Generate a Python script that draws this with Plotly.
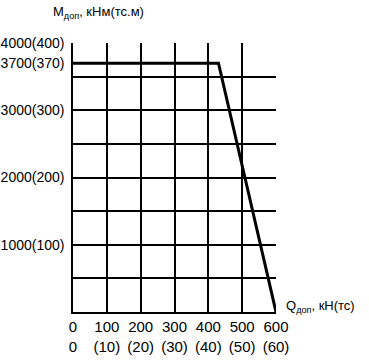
import plotly.graph_objects as go

# data
q_values = [0, 430, 600]
m_values = [3700, 3700, 0]
x_tickvals = [0, 100, 200, 300, 400, 500, 600]
x_ticktext = ["0<br>0", "100<br>(10)", "200<br>(20)", "300<br>(30)", "400<br>(40)", "500<br>(50)", "600<br>(60)"]
y_tickvals = [1000, 2000, 3000, 3700, 4000]
y_ticktext = ["1000(100)", "2000(200)", "3000(300)", "3700(370)", "4000(400)"]

FONT = "Liberation Sans Narrow, Arial Narrow, Liberation Sans, Arial, sans-serif"

fig = go.Figure()
fig.add_trace(go.Scatter(x=q_values, y=m_values, mode="lines",
                         line=dict(color="black", width=3), showlegend=False))

fig.update_layout(
    width=369, height=362,
    margin=dict(l=73, r=93, t=43, b=50, autoexpand=False),
    paper_bgcolor="white", plot_bgcolor="white",
    font=dict(family=FONT, size=14, color="black"),
    xaxis=dict(range=[0, 600], tickvals=x_tickvals, ticktext=x_ticktext,
               tickangle=0, automargin=False, ticklabelstandoff=0,
               showgrid=True, gridcolor="black", gridwidth=1.5,
               showline=True, linecolor="black", linewidth=2,
               ticks="", zeroline=False, tickfont=dict(size=15)),
    yaxis=dict(range=[0, 4000], tickvals=y_tickvals, ticktext=y_ticktext,
               automargin=False,
               showgrid=False, zeroline=False,
               showline=True, linecolor="black", linewidth=1.5, ticks="",
               ticklabelstandoff=4,
               minor=dict(tickmode="linear", tick0=0, dtick=500, showgrid=True,
                          gridcolor="black", gridwidth=1.5, ticks=""),
               tickfont=dict(size=14)),
    annotations=[
        dict(text="M<sub>доп</sub>, кНм(тс.м)", xref="paper", yref="paper",
             x=-0.11, y=1.075, xanchor="left", yanchor="bottom", showarrow=False,
             font=dict(size=13)),
        dict(text="Q<sub>доп</sub>, кН(тс)", xref="paper", yref="paper",
             x=1.0, y=0.0, xanchor="left", yanchor="middle", showarrow=False,
             xshift=8, yshift=6, font=dict(size=13)),
    ],
)

fig.write_html("out.html", config={"displayModeBar": False},
               post_script="document.body.style.margin='0';document.body.style.padding='0';")
